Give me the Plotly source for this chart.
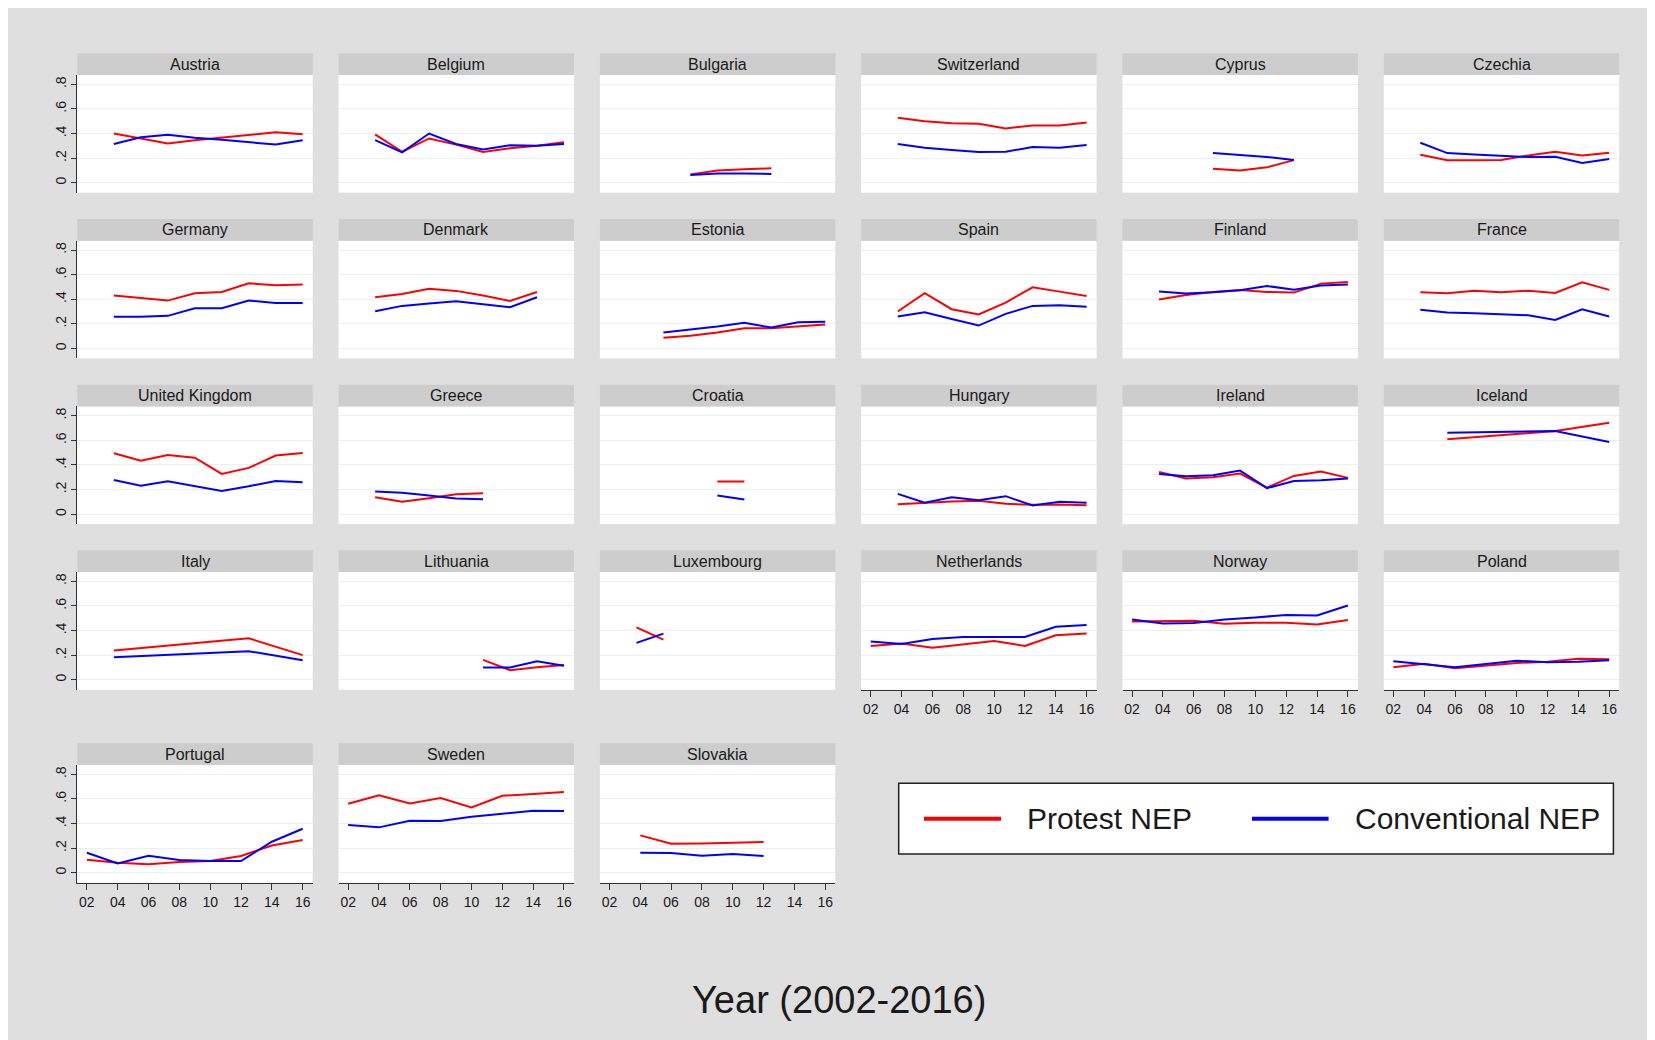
import plotly.graph_objects as go

# ---------------- data ----------------
COUNTRIES = [
    "Austria", "Belgium", "Bulgaria", "Switzerland", "Cyprus", "Czechia",
    "Germany", "Denmark", "Estonia", "Spain", "Finland", "France",
    "United Kingdom", "Greece", "Croatia", "Hungary", "Ireland", "Iceland",
    "Italy", "Lithuania", "Luxembourg", "Netherlands", "Norway", "Poland",
    "Portugal", "Sweden", "Slovakia",
]

# x positions of the survey rounds as drawn in the source
ROUNDS_A = [2003.75, 2005.5, 2007.25, 2009.0, 2010.75, 2012.5, 2014.25, 2016.0]
ROUNDS_B = [2002, 2004, 2006, 2008, 2010, 2012, 2014, 2016]

YEARS = {
    "Austria": ROUNDS_A,
    "Belgium": ROUNDS_A,
    "Bulgaria": ROUNDS_A[2:6],
    "Switzerland": ROUNDS_A,
    "Cyprus": ROUNDS_A[2:6],
    "Czechia": ROUNDS_A,
    "Germany": ROUNDS_A,
    "Denmark": ROUNDS_A[0:7],
    "Estonia": ROUNDS_A[1:8],
    "Spain": ROUNDS_A,
    "Finland": ROUNDS_A,
    "France": ROUNDS_A,
    "United Kingdom": ROUNDS_A,
    "Greece": ROUNDS_A[0:5],
    "Croatia": ROUNDS_A[3:5],
    "Hungary": ROUNDS_A,
    "Ireland": ROUNDS_A,
    "Iceland": [2005.5, 2012.5, 2016.0],
    "Italy": [2003.75, 2012.5, 2016.0],
    "Lithuania": ROUNDS_A[4:8],
    "Luxembourg": ROUNDS_A[0:2],
    "Netherlands": ROUNDS_B,
    "Norway": ROUNDS_B,
    "Poland": ROUNDS_B,
    "Portugal": ROUNDS_B,
    "Sweden": ROUNDS_B,
    "Slovakia": ROUNDS_B[1:6],
}

PROTEST = {
    "Austria": [0.40, 0.36, 0.32, 0.345, 0.365, 0.39, 0.41, 0.395],
    "Belgium": [0.393, 0.252, 0.36, 0.31, 0.25, 0.28, 0.30, 0.33],
    "Bulgaria": [0.068, 0.10, 0.11, 0.117],
    "Switzerland": [0.529, 0.50, 0.483, 0.48, 0.442, 0.466, 0.466, 0.49],
    "Cyprus": [0.114, 0.10, 0.125, 0.184],
    "Czechia": [0.228, 0.182, 0.182, 0.184, 0.222, 0.252, 0.222, 0.244],
    "Germany": [0.43, 0.408, 0.389, 0.449, 0.459, 0.53, 0.514, 0.519],
    "Denmark": [0.416, 0.443, 0.486, 0.468, 0.43, 0.386, 0.459],
    "Estonia": [0.086, 0.103, 0.13, 0.165, 0.165, 0.178, 0.195],
    "Spain": [0.30, 0.449, 0.319, 0.276, 0.373, 0.497, 0.462, 0.427],
    "Finland": [0.397, 0.435, 0.459, 0.476, 0.459, 0.454, 0.527, 0.54],
    "France": [0.457, 0.449, 0.47, 0.457, 0.47, 0.451, 0.538, 0.476],
    "United Kingdom": [0.495, 0.435, 0.481, 0.459, 0.327, 0.376, 0.476, 0.497],
    "Greece": [0.138, 0.10, 0.13, 0.162, 0.17],
    "Croatia": [0.265, 0.265],
    "Hungary": [0.081, 0.092, 0.103, 0.108, 0.084, 0.076, 0.078, 0.073],
    "Ireland": [0.343, 0.289, 0.30, 0.33, 0.216, 0.311, 0.346, 0.295],
    "Iceland": [0.608, 0.676, 0.743],
    "Italy": [0.237, 0.337, 0.20],
    "Lithuania": [0.162, 0.078, 0.102, 0.119],
    "Luxembourg": [0.426, 0.326],
    "Netherlands": [0.275, 0.294, 0.261, 0.288, 0.315, 0.275, 0.361, 0.375],
    "Norway": [0.474, 0.48, 0.48, 0.456, 0.464, 0.464, 0.45, 0.485],
    "Poland": [0.102, 0.129, 0.094, 0.113, 0.137, 0.146, 0.17, 0.167],
    "Portugal": [0.106, 0.081, 0.07, 0.087, 0.095, 0.136, 0.222, 0.266],
    "Sweden": [0.561, 0.629, 0.564, 0.607, 0.531, 0.626, 0.64, 0.656],
    "Slovakia": [0.304, 0.236, 0.238, 0.244, 0.249],
}

CONVENTIONAL = {
    "Austria": [0.315, 0.37, 0.39, 0.365, 0.35, 0.33, 0.31, 0.345],
    "Belgium": [0.347, 0.247, 0.40, 0.315, 0.27, 0.305, 0.30, 0.315],
    "Bulgaria": [0.062, 0.075, 0.075, 0.072],
    "Switzerland": [0.315, 0.285, 0.266, 0.25, 0.252, 0.29, 0.285, 0.306],
    "Cyprus": [0.241, 0.225, 0.21, 0.184],
    "Czechia": [0.325, 0.241, 0.23, 0.217, 0.209, 0.211, 0.16, 0.193],
    "Germany": [0.257, 0.257, 0.265, 0.327, 0.327, 0.389, 0.37, 0.37],
    "Denmark": [0.303, 0.346, 0.365, 0.384, 0.36, 0.335, 0.416],
    "Estonia": [0.13, 0.151, 0.178, 0.208, 0.17, 0.213, 0.216],
    "Spain": [0.259, 0.295, 0.24, 0.186, 0.281, 0.346, 0.351, 0.338],
    "Finland": [0.462, 0.446, 0.457, 0.473, 0.508, 0.478, 0.511, 0.519],
    "France": [0.314, 0.292, 0.287, 0.281, 0.27, 0.232, 0.319, 0.259],
    "United Kingdom": [0.278, 0.23, 0.268, 0.23, 0.189, 0.227, 0.27, 0.259],
    "Greece": [0.184, 0.173, 0.151, 0.127, 0.122],
    "Croatia": [0.151, 0.119],
    "Hungary": [0.165, 0.092, 0.138, 0.114, 0.146, 0.07, 0.10, 0.092],
    "Ireland": [0.327, 0.308, 0.316, 0.354, 0.211, 0.27, 0.276, 0.289],
    "Iceland": [0.662, 0.676, 0.586],
    "Italy": [0.183, 0.232, 0.159],
    "Lithuania": [0.10, 0.10, 0.151, 0.113],
    "Luxembourg": [0.30, 0.375],
    "Netherlands": [0.31, 0.291, 0.332, 0.348, 0.348, 0.348, 0.431, 0.445],
    "Norway": [0.49, 0.458, 0.461, 0.49, 0.507, 0.526, 0.523, 0.604],
    "Poland": [0.151, 0.127, 0.102, 0.127, 0.154, 0.143, 0.146, 0.159],
    "Portugal": [0.163, 0.076, 0.138, 0.103, 0.095, 0.095, 0.252, 0.358],
    "Sweden": [0.388, 0.369, 0.423, 0.42, 0.455, 0.477, 0.504, 0.501],
    "Slovakia": [0.163, 0.16, 0.138, 0.152, 0.136],
}

X_TICK_VALS = [2002, 2004, 2006, 2008, 2010, 2012, 2014, 2016]
X_TICK_LABELS = ["02", "04", "06", "08", "10", "12", "14", "16"]
Y_TICK_VALS = [0, 0.2, 0.4, 0.6, 0.8]
Y_TICK_LABELS = ["0", ".2", ".4", ".6", ".8"]

SERIES_NAMES = ["Protest NEP", "Conventional NEP"]
X_TITLE = "Year (2002-2016)"

# ---------------- style / layout ----------------
PAGE_OFF = 8          # browser body margin: the figure starts at (8, 8)
FW, FH = 1647, 1032   # figure size filling the rest of the window
FONT = "Liberation Sans, Arial, Helvetica, sans-serif"
RED = "#FF0000"
BLUE = "#0000FF"
BG = "#DFDFDF"
HEADER = "#CDCDCD"
GRID = "#E9F0F2"
AXIS = "#333333"
TEXT = "#1A1A1A"

# panel geometry measured in window pixels
COL_LEFT = 77.3
COL_STEP = 261.3
PANEL_W = 235.4
ROW_TOP = [53.3, 219.0, 384.7, 550.3, 743.3]
HEADER_H = 21.7
PLOT_H = 117.7
NCOL = 6


def fx(px):
    return (px - PAGE_OFF) / FW


def fy(py):
    return 1 - (py - PAGE_OFF) / FH


fig = go.Figure()
layout = dict(
    width=FW, height=FH,
    margin=dict(l=0, r=0, t=0, b=0),
    paper_bgcolor=BG,
    plot_bgcolor="white",
    showlegend=False,
    font=dict(family=FONT, color=TEXT),
)
shapes = []
annotations = []

n = len(COUNTRIES)
for i, c in enumerate(COUNTRIES):
    r, col = divmod(i, NCOL)
    x0 = COL_LEFT + col * COL_STEP
    x1 = x0 + PANEL_W
    htop = ROW_TOP[r]
    ptop = htop + HEADER_H
    pbot = ptop + PLOT_H
    k = "" if i == 0 else str(i + 1)
    has_below = (i + NCOL) < n
    show_x = not has_below
    show_y = col == 0

    layout["xaxis" + k] = dict(
        domain=[fx(x0), fx(x1)], anchor="y" + k,
        range=[2001.38, 2016.65], fixedrange=True,
        showgrid=False, zeroline=False,
        tickmode="array", tickvals=X_TICK_VALS, ticktext=X_TICK_LABELS,
        showticklabels=show_x, ticks="outside" if show_x else "",
        ticklen=6, tickwidth=1, tickcolor=AXIS,
        showline=show_x, linecolor=AXIS, linewidth=1,
        tickfont=dict(size=14, color=TEXT, family=FONT),
    )
    layout["yaxis" + k] = dict(
        domain=[fy(pbot), fy(ptop)], anchor="x" + k,
        range=[-0.081, 0.876], fixedrange=True,
        showgrid=True, gridcolor=GRID, gridwidth=1, zeroline=False,
        tickmode="array", tickvals=Y_TICK_VALS, ticktext=Y_TICK_LABELS,
        showticklabels=show_y, ticks="outside" if show_y else "",
        ticklen=5, tickwidth=1, tickcolor=AXIS, tickangle=-90,
        showline=show_y, linecolor=AXIS, linewidth=1,
        tickfont=dict(size=14, color=TEXT, family=FONT),
    )

    # strip header
    shapes.append(dict(type="rect", xref="paper", yref="paper",
                       x0=fx(x0), x1=fx(x1), y0=fy(ptop), y1=fy(htop),
                       fillcolor=HEADER, line_width=0))
    annotations.append(dict(text=c, xref="paper", yref="paper",
                            x=fx((x0 + x1) / 2), y=fy(htop + HEADER_H / 2),
                            xanchor="center", yanchor="middle", showarrow=False,
                            font=dict(size=16, color=TEXT, family=FONT)))

    fig.add_trace(go.Scatter(x=YEARS[c], y=PROTEST[c], mode="lines",
                             name=SERIES_NAMES[0], legendgroup="p",
                             line=dict(color=RED, width=2),
                             xaxis="x" + k, yaxis="y" + k))
    fig.add_trace(go.Scatter(x=YEARS[c], y=CONVENTIONAL[c], mode="lines",
                             name=SERIES_NAMES[1], legendgroup="c",
                             line=dict(color=BLUE, width=2),
                             xaxis="x" + k, yaxis="y" + k))

# legend box (drawn)
LEG_X0, LEG_X1, LEG_Y0, LEG_Y1 = 898.7, 1613.4, 783.3, 854.0
LEG_MID = 818.7
shapes.append(dict(type="rect", xref="paper", yref="paper",
                   x0=fx(LEG_X0), x1=fx(LEG_X1), y0=fy(LEG_Y1), y1=fy(LEG_Y0),
                   fillcolor="white", line=dict(color="#222222", width=1.5)))
legend_items = [(SERIES_NAMES[0], RED, 924.0, 1001.0, 1024.5),
                (SERIES_NAMES[1], BLUE, 1252.0, 1328.6, 1353.0)]
for name, colr, lx0, lx1, tx in legend_items:
    shapes.append(dict(type="line", xref="paper", yref="paper",
                       x0=fx(lx0), x1=fx(lx1), y0=fy(LEG_MID), y1=fy(LEG_MID),
                       line=dict(color=colr, width=4)))
    annotations.append(dict(text=name, xref="paper", yref="paper",
                            x=fx(tx), y=fy(LEG_MID), xanchor="left", yanchor="middle",
                            showarrow=False,
                            font=dict(size=30, color=TEXT, family=FONT)))

# x-axis title
annotations.append(dict(text=X_TITLE, xref="paper", yref="paper",
                        x=fx(838.5), y=fy(1000), xanchor="center", yanchor="middle",
                        showarrow=False, font=dict(size=38, color=TEXT, family=FONT)))

layout["shapes"] = shapes
layout["annotations"] = annotations
fig.update_layout(**layout)

fig.write_html("out.html")
